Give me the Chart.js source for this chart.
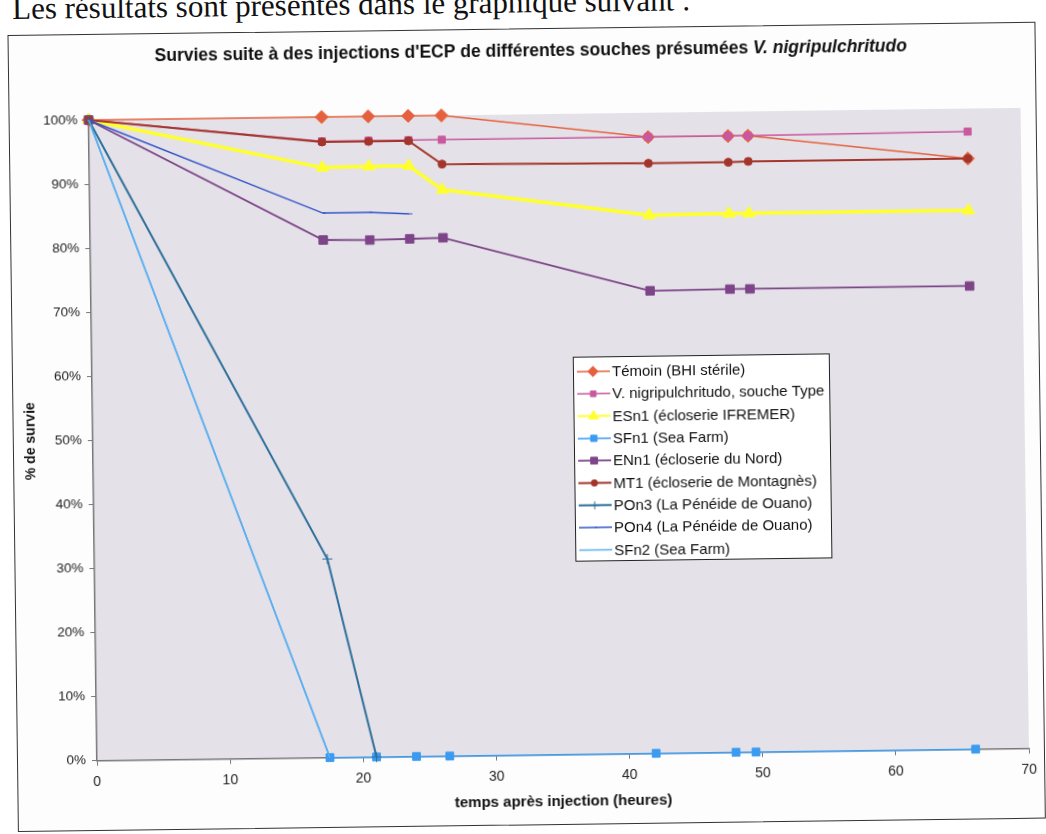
<!DOCTYPE html>
<html>
<head>
<meta charset="utf-8">
<script src="https://cdn.jsdelivr.net/npm/chart.js@4.4.1/dist/chart.umd.min.js"></script>
<style>
  html, body { margin: 0; padding: 0; background: #fff; overflow: hidden; }
  /* the scanned page is tilted a little, so the whole sheet is turned */
  #page { position: relative; width: 1046px; height: 834px; transform-origin: 97px 760.7px; transform: rotate(-0.75deg); }
  #intro { position: absolute; left: 22px; top: -7px; font: 31px/30px "Liberation Serif", "Times New Roman", serif; color: #111; white-space: nowrap; }
  #frame { position: absolute; left: 17px; top: 34px; width: 1026px; height: 795px; border: 1.5px solid #333; background: #fdfdfd; }
  #chart { position: absolute; left: 0; top: 0; }
</style>
</head>
<body>
<div id="page">
  <div id="intro">Les résultats sont présentés dans le graphique suivant :</div>
  <div id="frame"></div>
  <canvas id="chart" width="1046" height="834"></canvas>
</div>
<script>
// temps (heures)
const hours = [0, 17.5, 21, 24, 26.5, 42, 48, 49.5, 66];
const pon3Hours = [0, 17.5, 21];
const pon4Hours = [0, 17.5, 21, 24];
const sfn2Hours = [0, 17.5];

// % de survie
const temoin = [100, 100, 100, 100, 100, 96.2, 96.2, 96.2, 92.2];
const vnType = [100, 96.2, 96.2, 96.2, 96.2, 96.2, 96.2, 96.2, 96.4];
const esn1 = [100, 92.1, 92.2, 92.2, 88.4, 84.0, 84.1, 84.1, 84.1];
const sfn1 = [100, 0, 0, 0, 0, 0, 0, 0, 0];
const enn1 = [100, 80.8, 80.7, 80.8, 80.9, 72.2, 72.3, 72.3, 72.3];
const mt1 = [100, 96.1, 96.1, 96.1, 92.4, 92.1, 92.1, 92.2, 92.2];
const pon3 = [100, 31, 0];
const pon4 = [100, 85, 85, 84.7];
const sfn2 = [100, 0];

const yTicks = [0, 10, 20, 30, 40, 50, 60, 70, 80, 90, 100];
const xTicks = [0, 10, 20, 30, 40, 50, 60, 70];

const FONT = '"Liberation Sans", Arial, sans-serif';

function pts(xs, ys) {
    return xs.map((x, i) => ({ x: x, y: ys[i] }));
}

function serie(label, xs, ys, color, style, radius, width) {
    return {
        label: label,
        data: pts(xs, ys),
        borderColor: color,
        backgroundColor: color,
        pointBackgroundColor: color,
        pointBorderColor: color,
        pointBorderWidth: 1,
        pointStyle: style,
        pointRadius: radius,
        borderWidth: width,
        tension: 0,
        clip: false
    };
}

const datasets = [
    serie('Témoin (BHI stérile)', hours, temoin, '#E5603D', 'rectRot', 6.5, 1.5),
    serie('V. nigripulchritudo, souche Type', hours, vnType, '#C9589E', 'rect', 5, 1.5),
    serie('ESn1 (écloserie IFREMER)', hours, esn1, '#FFFF2E', 'triangle', 7, 3.5),
    serie('SFn1 (Sea Farm)', hours, sfn1, '#3A9BF0', 'rect', 5.5, 1.5),
    serie('ENn1 (écloserie du Nord)', hours, enn1, '#7D4488', 'rect', 6, 1.8),
    serie('MT1 (écloserie de Montagnès)', hours, mt1, '#A3352B', 'circle', 4, 2),
    serie('POn3 (La Pénéide de Ouano)', pon3Hours, pon3, '#2E6E9A', 'cross', 5, 2),
    serie('POn4 (La Pénéide de Ouano)', pon4Hours, pon4, '#3555C8', 'dash', 3, 1.5),
    serie('SFn2 (Sea Farm)', sfn2Hours, sfn2, '#5AB0F0', 'circle', 0, 1.5)
];
// Excel draws the later series on top
datasets.forEach((d, i) => { d.order = datasets.length - i; });

// fond gris de la zone de tracé
const plotBackground = {
    id: 'plotBackground',
    beforeDraw(chart) {
        const a = chart.chartArea;
        const ctx = chart.ctx;
        ctx.save();
        ctx.fillStyle = '#E4E2E8';
        ctx.fillRect(a.left, a.top, a.right - a.left, a.bottom - a.top);
        ctx.restore();
    }
};

// titre avec le nom d'espèce en italique
const mixedTitle = {
    id: 'mixedTitle',
    afterDraw(chart) {
        const ctx = chart.ctx;
        const part1 = "Survies suite à des injections d'ECP de différentes souches présumées ";
        const part2 = 'V. nigripulchritudo';
        const size = 17.5;
        ctx.save();
        ctx.fillStyle = '#111';
        ctx.textBaseline = 'middle';
        ctx.font = 'bold ' + size + 'px ' + FONT;
        const w1 = ctx.measureText(part1).width;
        ctx.font = 'italic bold ' + size + 'px ' + FONT;
        const w2 = ctx.measureText(part2).width;
        const x0 = 540 - (w1 + w2) / 2;
        ctx.font = 'bold ' + size + 'px ' + FONT;
        ctx.fillText(part1, x0, 57);
        ctx.font = 'italic bold ' + size + 'px ' + FONT;
        ctx.fillText(part2, x0 + w1, 57);
        ctx.restore();
    }
};

// légende encadrée dans la zone de tracé
const boxLegend = {
    id: 'boxLegend',
    afterDraw(chart) {
        const ctx = chart.ctx;
        const bx = 578, by = 363, bw = 256, bh = 204;
        ctx.save();
        ctx.fillStyle = '#fff';
        ctx.fillRect(bx, by, bw, bh);
        ctx.strokeStyle = '#222';
        ctx.lineWidth = 1;
        ctx.strokeRect(bx + 0.5, by + 0.5, bw, bh);
        ctx.font = '15px ' + FONT;
        ctx.textBaseline = 'middle';
        chart.data.datasets.forEach((d, i) => {
            const y = by + 15 + i * 22.3;
            ctx.strokeStyle = d.borderColor;
            ctx.lineWidth = Math.min(d.borderWidth, 2);
            ctx.beginPath();
            ctx.moveTo(bx + 4, y);
            ctx.lineTo(bx + 37, y);
            ctx.stroke();
            if (d.pointRadius > 0) {
                ctx.fillStyle = d.pointBackgroundColor;
                ctx.lineWidth = 1;
                Chart.helpers.drawPoint(ctx, {
                    pointStyle: d.pointStyle,
                    radius: d.pointRadius * 0.8,
                    rotation: 0,
                    borderWidth: 1
                }, bx + 20, y);
            }
            ctx.fillStyle = '#111';
            ctx.fillText(d.label, bx + 39, y + 1);
        });
        ctx.restore();
    }
};

new Chart(document.getElementById('chart'), {
    type: 'line',
    data: { datasets: datasets },
    plugins: [plotBackground, mixedTitle, boxLegend],
    options: {
        responsive: false,
        animation: false,
        layout: { padding: { left: 0, top: 120, right: 17, bottom: 0 } },
        plugins: {
            legend: { display: false },
            tooltip: { enabled: false },
            title: { display: false }
        },
        scales: {
            x: {
                type: 'linear',
                min: 0,
                max: 70,
                afterBuildTicks: s => { s.ticks = xTicks.map(v => ({ value: v })); },
                ticks: { color: '#222', font: { family: FONT, size: 14 }, padding: 8, maxRotation: 0 },
                grid: { drawOnChartArea: false, tickLength: 5, color: '#777' },
                border: { color: '#777', width: 1.5 },
                title: {
                    display: true,
                    text: 'temps après injection (heures)',
                    color: '#111',
                    font: { family: FONT, size: 15, weight: 'bold' },
                    padding: { top: 0, bottom: 17 }
                },
                afterFit: s => { s.height = 834 - 760.7; }
            },
            y: {
                min: 0,
                max: 100,
                afterBuildTicks: s => { s.ticks = yTicks.map(v => ({ value: v })); },
                ticks: { color: '#222', font: { family: FONT, size: 13.5 }, padding: 6, callback: v => v + '%' },
                grid: { drawOnChartArea: false, tickLength: 5, color: '#777' },
                border: { color: '#777', width: 1.5 },
                title: {
                    display: true,
                    text: '% de survie',
                    color: '#111',
                    font: { family: FONT, size: 14, weight: 'bold' },
                    padding: { top: 27, bottom: 0 }
                },
                afterFit: s => { s.width = 97; }
            }
        }
    }
});
</script>
</body>
</html>
